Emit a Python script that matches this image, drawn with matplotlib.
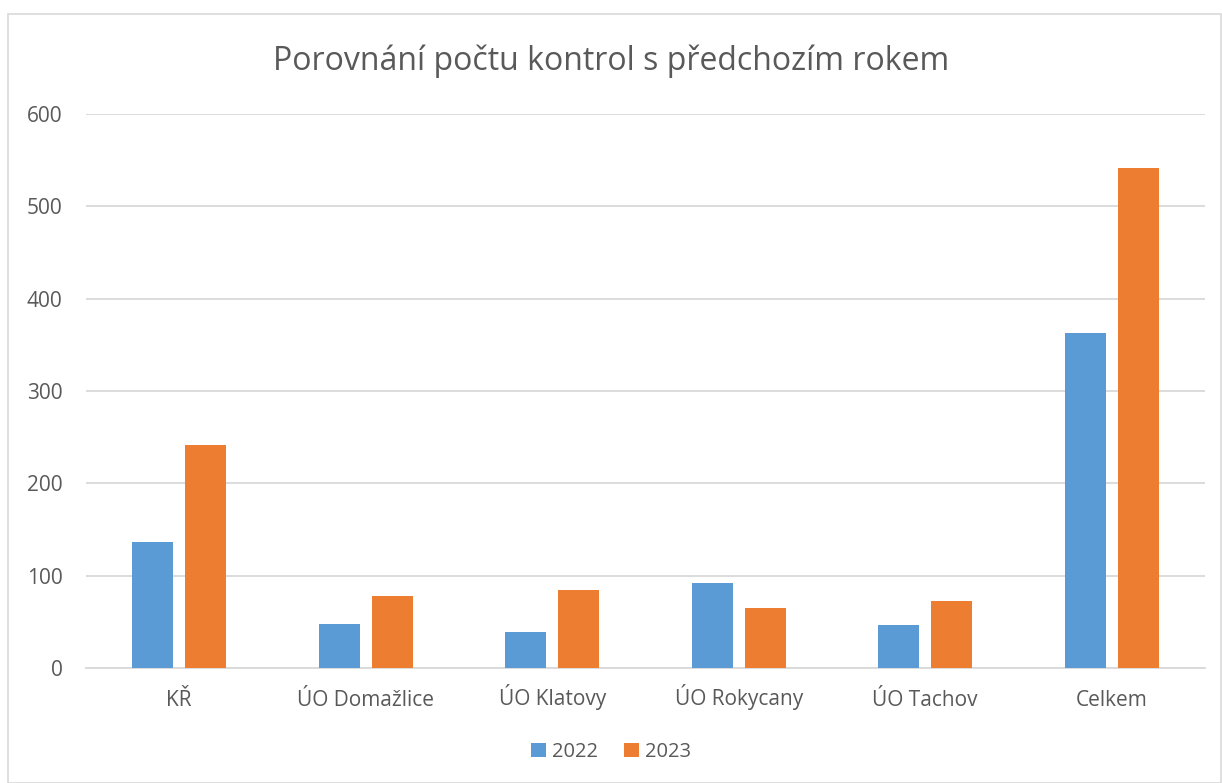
import matplotlib
matplotlib.use("Agg")
import matplotlib.pyplot as plt
import numpy as np
from matplotlib.patches import Rectangle

categories = ["KŘ", "ÚO Domažlice", "ÚO Klatovy", "ÚO Rokycany", "ÚO Tachov", "Celkem"]
values_2022 = [137, 48, 39, 92, 47, 363]
values_2023 = [241, 78, 85, 65, 73, 542]
series_labels = ["2022", "2023"]
yticks = [0, 100, 200, 300, 400, 500, 600]

plt.rcParams['font.family'] = ['Open Sans', 'DejaVu Sans']
text_color = "#595959"

fig = plt.figure(figsize=(12.22, 7.83), dpi=100)
ax = fig.add_axes([86/1222, 1 - 668/783, (1205-86)/1222, (668-114)/783])

x = np.arange(len(categories))
w = 0.22
off = 0.142
ax.bar(x - off, values_2022, width=w, color="#5B9BD5", label=series_labels[0], zorder=3)
ax.bar(x + off, values_2023, width=w, color="#ED7D31", label=series_labels[1], zorder=3)

ax.set_xlim(-0.5, len(categories) - 0.5)
ax.set_ylim(0, 600)
ax.set_yticks(yticks)
ax.set_yticklabels([str(t) for t in yticks])
ax.set_xticks(x)
ax.set_xticklabels(categories)
for lbl in ax.get_xticklabels():
    lbl.set_verticalalignment("baseline")
ax.yaxis.grid(True, color="#D9D9D9", linewidth=1.3, zorder=0)
ax.set_axisbelow(True)
for s in ["top", "right", "left"]:
    ax.spines[s].set_visible(False)
ax.spines["bottom"].set_color("#D9D9D9")
ax.spines["bottom"].set_linewidth(1.3)
ax.tick_params(axis="both", length=0, colors=text_color, labelsize=15)
ax.tick_params(axis="y", pad=17)
ax.tick_params(axis="x", pad=27)

fig.text(0.5, 1 - 61/783, "Porovnání počtu kontrol s předchozím rokem", ha="center", va="center",
         fontsize=23, color=text_color)

leg = fig.legend(loc="center", bbox_to_anchor=(0.5, 1 - 752/783), ncol=2, frameon=False,
                 fontsize=14.5, handlelength=0.75, handleheight=0.75, handletextpad=0.3,
                 columnspacing=1.3)
for t in leg.get_texts():
    t.set_color(text_color)

fig.patches.append(Rectangle((8/1222, 0.0), (1221-8)/1222, 1 - 14/783, transform=fig.transFigure,
                             fill=False, edgecolor="#D9D9D9", linewidth=1.2))

fig.savefig("out.png", dpi=100, facecolor="white")
